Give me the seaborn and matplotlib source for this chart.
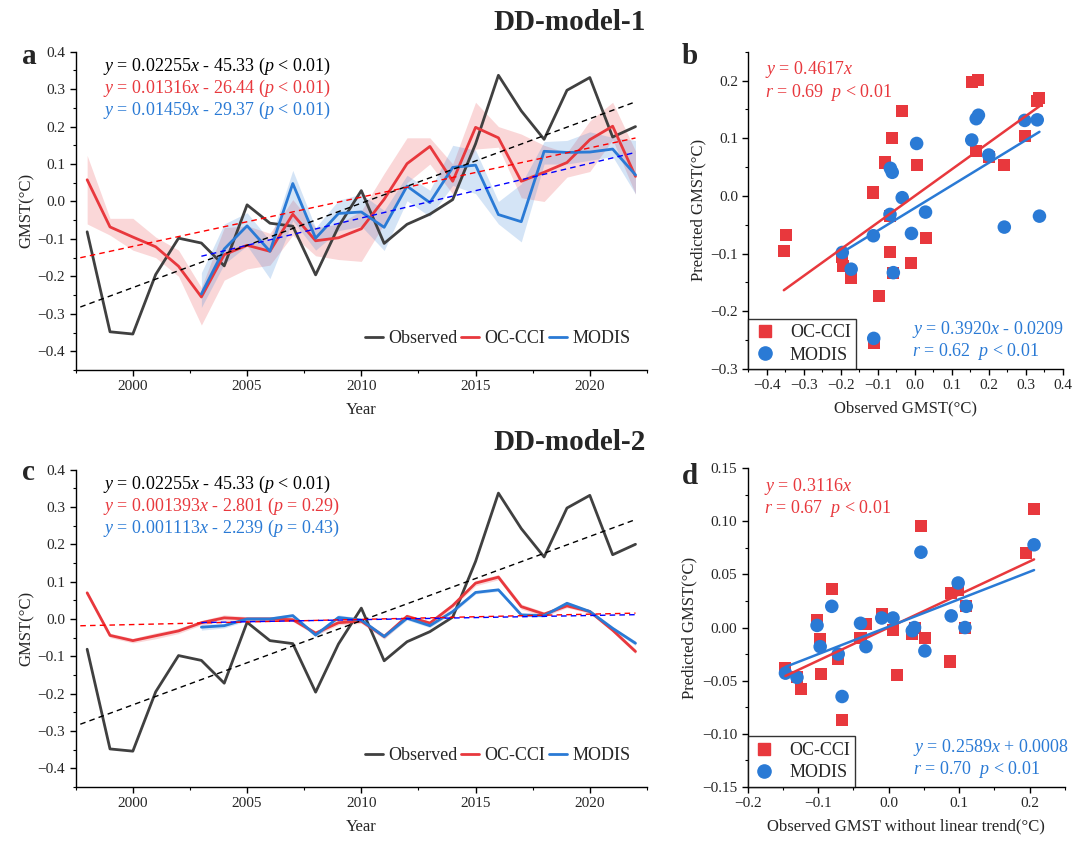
import numpy as np
import matplotlib
matplotlib.use('Agg')
import matplotlib.pyplot as plt
import seaborn as sns
from matplotlib.ticker import MultipleLocator, FuncFormatter
from matplotlib.lines import Line2D

# ---- data ----
years = np.arange(1998, 2023)
modis_years = np.arange(2003, 2023)

observed = [-0.081, -0.348, -0.354, -0.195, -0.098, -0.111, -0.172, -0.009, -0.058, -0.066,
            -0.196, -0.067, 0.029, -0.112, -0.061, -0.034, 0.005, 0.154, 0.337, 0.242,
            0.166, 0.297, 0.331, 0.172, 0.200]

# DD-model-1
occci_1 = [0.058, -0.068, -0.095, -0.121, -0.173, -0.255, -0.142, -0.117, -0.133, -0.034,
           -0.105, -0.097, -0.073, 0.006, 0.101, 0.147, 0.054, 0.198, 0.170, 0.054,
           0.078, 0.104, 0.165, 0.201, 0.067]
occci_1_lo = [-0.060, -0.090, -0.130, -0.150, -0.200, -0.330, -0.210, -0.180, -0.170, -0.090,
              -0.145, -0.155, -0.160, -0.060, 0.050, 0.100, 0.020, 0.140, 0.145, 0.010,
              0.000, 0.065, 0.080, 0.165, 0.020]
occci_1_hi = [0.123, -0.045, -0.045, -0.095, -0.130, -0.230, -0.070, -0.065, -0.085, 0.005,
              -0.070, -0.060, -0.025, 0.075, 0.170, 0.170, 0.100, 0.265, 0.200, 0.180,
              0.150, 0.130, 0.215, 0.265, 0.135]
modis_1 = [-0.247, -0.127, -0.065, -0.133, 0.048, -0.098, -0.032, -0.028, -0.069, 0.041,
           -0.003, 0.091, 0.097, -0.035, -0.054, 0.134, 0.131, 0.132, 0.140, 0.071]
modis_1_lo = [-0.283, -0.167, -0.118, -0.206, -0.051, -0.130, -0.078, -0.066, -0.131, 0.002,
              -0.040, 0.043, 0.021, -0.060, -0.108, 0.100, 0.100, 0.110, 0.120, 0.020]
modis_1_hi = [-0.190, -0.060, -0.030, -0.105, 0.083, -0.070, 0.003, 0.020, -0.024, 0.070,
              0.030, 0.150, 0.137, 0.000, 0.047, 0.160, 0.163, 0.186, 0.171, 0.163]

# DD-model-2
occci_2 = [0.070, -0.044, -0.058, -0.045, -0.032, -0.010, 0.003, 0.000, 0.000, -0.002,
           -0.038, -0.010, -0.006, -0.047, 0.007, -0.011, 0.036, 0.096, 0.112, 0.033,
           0.013, 0.035, 0.020, -0.030, -0.087]
occci_2_err = [0.004, 0.006, 0.006, 0.008, 0.007, 0.006, 0.008, 0.006, 0.006, 0.005,
               0.006, 0.006, 0.006, 0.007, 0.006, 0.005, 0.006, 0.007, 0.007, 0.007,
               0.006, 0.005, 0.005, 0.005, 0.006]
modis_2 = [-0.022, -0.018, 0.000, 0.000, 0.009, -0.043, 0.004, -0.003, -0.047, 0.002,
           -0.018, 0.020, 0.071, 0.078, 0.011, 0.009, 0.042, 0.020, -0.025, -0.065]
modis_2_err = [0.008, 0.006, 0.005, 0.005, 0.005, 0.005, 0.007, 0.005, 0.005, 0.005,
               0.005, 0.005, 0.004, 0.004, 0.004, 0.004, 0.005, 0.004, 0.004, 0.006]

# regression coefficients printed in the figure (slope, intercept)
obs_fit = (0.02255, -45.33)
occci_fit_1 = (0.01316, -26.44)
modis_fit_1 = (0.01459, -29.37)
occci_fit_2 = (0.001393, -2.801)
modis_fit_2 = (0.001113, -2.239)
b_occci_fit = (0.4617, 0.0)
b_modis_fit = (0.3920, -0.0209)
d_occci_fit = (0.3116, 0.0)
d_modis_fit = (0.2589, 0.0008)

OBS = '#404040'
RED = '#e8383d'
BLUE = '#2a7ad5'

sns.set_style('ticks')
plt.rcParams['font.family'] = ['Liberation Serif', 'DejaVu Serif']
plt.rcParams['mathtext.fontset'] = 'custom'
plt.rcParams['mathtext.rm'] = 'Liberation Serif'
plt.rcParams['mathtext.it'] = 'Liberation Serif:italic'
plt.rcParams['xtick.direction'] = 'out'
plt.rcParams['ytick.direction'] = 'out'
plt.rcParams['axes.linewidth'] = 1.0

fig = plt.figure(figsize=(10.88, 8.42), dpi=100)
ax_a = fig.add_axes([0.0696, 0.5606, 0.525, 0.378])
ax_b = fig.add_axes([0.6878, 0.5618, 0.289, 0.3767])
ax_c = fig.add_axes([0.0696, 0.0653, 0.525, 0.377])
ax_d = fig.add_axes([0.6872, 0.0657, 0.2916, 0.378])


def style_axes(ax):
    sns.despine(ax=ax)
    ax.tick_params(which='major', length=4, width=1, labelsize=11, color='black')
    ax.tick_params(which='minor', length=2.5, width=0.8, color='black')
    for s in ax.spines.values():
        s.set_color('black')


def line_through(fit, x0, x1):
    xx = np.array([x0, x1])
    return xx, fit[0] * xx + fit[1]


def slope_x(s):
    # last digit goes into the math group with the italic x (breaks a bad kern pair)
    return r'%s$\mathrm{%s}x$' % (s[:-1], s[-1])


def eq_text(slope, icpt, ptxt):
    return r'$y$ = %s - %s ($p$ %s)' % (slope_x(slope), icpt, ptxt)


def ts_panel(ax, occ, occ_lo, occ_hi, mod, mod_lo, mod_hi, fits, eqs):
    ax.fill_between(years, occ_lo, occ_hi, color=RED, alpha=0.2, lw=0)
    ax.fill_between(modis_years, mod_lo, mod_hi, color=BLUE, alpha=0.2, lw=0)
    sns.lineplot(x=years, y=observed, color=OBS, lw=2, ax=ax)
    sns.lineplot(x=years, y=occ, color=RED, lw=2, ax=ax)
    sns.lineplot(x=modis_years, y=mod, color=BLUE, lw=2, ax=ax)
    for fit, x0, col in zip(fits, [1997.7, 1997.7, 2003], ['black', 'red', 'blue']):
        xx, yy = line_through(fit, x0, 2022)
        ax.plot(xx, yy, ls=(0, (4, 3)), color=col, lw=1)
    ax.set_xlim(1997.5, 2022.5)
    ax.set_ylim(-0.45, 0.4)
    ax.xaxis.set_major_locator(MultipleLocator(5))
    ax.xaxis.set_minor_locator(MultipleLocator(2.5))
    ax.yaxis.set_major_locator(MultipleLocator(0.1))
    ax.yaxis.set_minor_locator(MultipleLocator(0.05))
    ax.yaxis.set_major_formatter(FuncFormatter(lambda v, p: ('%.1f' % v).replace('-', '\u2212')))
    ax.set_xlabel('Year', fontsize=12, labelpad=6)
    ax.set_ylabel('GMST(°C)', fontsize=12)
    ax.yaxis.set_label_coords(-0.071, 0.5)
    for i, (txt, col) in enumerate(zip(eqs, ['black', RED, BLUE])):
        ax.text(0.048, 0.953 - i * 0.069, txt, transform=ax.transAxes, color=col,
                fontsize=13, va='center', ha='left')
    handles = [Line2D([], [], color=OBS, lw=2), Line2D([], [], color=RED, lw=2),
               Line2D([], [], color=BLUE, lw=2)]
    ax.legend(handles, ['Observed', 'OC-CCI', 'MODIS'], loc='lower right',
              bbox_to_anchor=(1.0, 0.02), ncol=3, frameon=False, fontsize=13,
              handlelength=1.0, handletextpad=0.3, columnspacing=0.2)
    style_axes(ax)


ts_panel(ax_a, occci_1, occci_1_lo, occci_1_hi, modis_1, modis_1_lo, modis_1_hi,
         [obs_fit, occci_fit_1, modis_fit_1],
         [eq_text('0.02255', '45.33', '< 0.01'),
          eq_text('0.01316', '26.44', '< 0.01'),
          eq_text('0.01459', '29.37', '< 0.01')])

occ2 = np.array(occci_2)
mod2 = np.array(modis_2)
ts_panel(ax_c, occ2, occ2 - np.array(occci_2_err), occ2 + np.array(occci_2_err),
         mod2, mod2 - np.array(modis_2_err), mod2 + np.array(modis_2_err),
         [obs_fit, occci_fit_2, modis_fit_2],
         [eq_text('0.02255', '45.33', '< 0.01'),
          eq_text('0.001393', '2.801', '= 0.29'),
          eq_text('0.001113', '2.239', '= 0.43')])


def scatter_panel(ax, xo, yo, xm, ym, fit_o, fit_m, red_txt, blue_txt):
    sns.scatterplot(x=xo, y=yo, marker='s', s=75, color=RED, edgecolor='none', ax=ax, zorder=3)
    sns.scatterplot(x=xm, y=ym, marker='o', s=95, color=BLUE, edgecolor='none', ax=ax, zorder=4)
    xx, yy = line_through(fit_o, np.min(xo), np.max(xo))
    ax.plot(xx, yy, color=RED, lw=1.8, zorder=5)
    xx, yy = line_through(fit_m, np.min(xm), np.max(xm))
    ax.plot(xx, yy, color=BLUE, lw=1.8, zorder=5)
    ax.text(0.053, 0.943, red_txt[0], transform=ax.transAxes, color=RED, fontsize=13, va='center')
    ax.text(0.053, 0.873, red_txt[1], transform=ax.transAxes, color=RED, fontsize=13, va='center')
    ax.text(0.52, 0.123, blue_txt[0], transform=ax.transAxes, color=BLUE, fontsize=13, va='center')
    ax.text(0.52, 0.054, blue_txt[1], transform=ax.transAxes, color=BLUE, fontsize=13, va='center')
    handles = [Line2D([], [], ls='none', marker='s', ms=8.5, color=RED),
               Line2D([], [], ls='none', marker='o', ms=9.5, color=BLUE)]
    leg = ax.legend(handles, ['OC-CCI', 'MODIS'], loc='lower left', bbox_to_anchor=(0, 0),
                    borderaxespad=0, fontsize=13, fancybox=False, frameon=True,
                    handlelength=1.2, handletextpad=0.8, labelspacing=0.3, borderpad=0.3)
    leg.get_frame().set_edgecolor('black')
    leg.get_frame().set_linewidth(1.0)
    style_axes(ax)


obs_arr = np.array(observed)
modis_mask = years >= 2003
scatter_panel(ax_b, obs_arr, occci_1, obs_arr[modis_mask], modis_1, b_occci_fit, b_modis_fit,
              [r'$y$ = %s' % slope_x('0.4617'), r'$r$ = 0.69  $p$ < 0.01'],
              [r'$y$ = %s - 0.0209' % slope_x('0.3920'), r'$r$ = 0.62  $p$ < 0.01'])
ax_b.set_xlim(-0.45, 0.4)
ax_b.set_ylim(-0.3, 0.25)
ax_b.xaxis.set_major_locator(MultipleLocator(0.1))
ax_b.xaxis.set_minor_locator(MultipleLocator(0.05))
ax_b.yaxis.set_major_locator(MultipleLocator(0.1))
ax_b.yaxis.set_minor_locator(MultipleLocator(0.05))
ax_b.set_xlabel('Observed GMST(°C)', fontsize=12, labelpad=6)
ax_b.set_ylabel('Predicted GMST(°C)', fontsize=12, labelpad=3)

# observed GMST with the linear trend of panel a/c removed
detrended = obs_arr - (obs_fit[0] * years + obs_fit[1])
scatter_panel(ax_d, detrended, occci_2, detrended[modis_mask], modis_2, d_occci_fit, d_modis_fit,
              [r'$y$ = %s' % slope_x('0.3116'), r'$r$ = 0.67  $p$ < 0.01'],
              [r'$y$ = %s + 0.0008' % slope_x('0.2589'), r'$r$ = 0.70  $p$ < 0.01'])
ax_d.set_xlim(-0.2, 0.25)
ax_d.set_ylim(-0.15, 0.15)
ax_d.xaxis.set_major_locator(MultipleLocator(0.1))
ax_d.xaxis.set_minor_locator(MultipleLocator(0.05))
ax_d.yaxis.set_major_locator(MultipleLocator(0.05))
ax_d.yaxis.set_minor_locator(MultipleLocator(0.025))
ax_d.yaxis.set_major_formatter(FuncFormatter(lambda v, p: ('%.2f' % v).replace('-', '\u2212')))
ax_d.set_xlabel('Observed GMST without linear trend(°C)', fontsize=12, labelpad=6)
ax_d.set_ylabel('Predicted GMST(°C)', fontsize=12, labelpad=3)

fig.text(570 / 1088, 1 - 22 / 842, 'DD-model-1', ha='center', va='center',
         fontsize=21, weight='bold')
fig.text(570 / 1088, 1 - 442 / 842, 'DD-model-2', ha='center', va='center',
         fontsize=21, weight='bold')
for lab, xp, yp in [('a', 22, 64), ('b', 682, 64), ('c', 22, 480), ('d', 682, 484)]:
    fig.text(xp / 1088, 1 - yp / 842, lab, fontsize=21, weight='bold', va='baseline')

fig.savefig('out.png', dpi=100)
